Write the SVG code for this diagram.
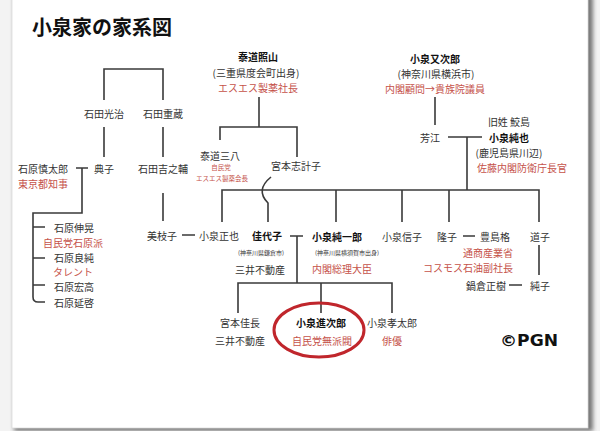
<svg xmlns="http://www.w3.org/2000/svg" width="600" height="431" viewBox="0 0 600 431">
<defs>
<filter id="sh" x="-5%" y="-5%" width="110%" height="110%"><feGaussianBlur stdDeviation="2"/></filter>
<style>
text{font-family:"Noto Sans CJK JP","Noto Sans",sans-serif;dominant-baseline:central;text-anchor:middle;fill:#333}
.n{font-size:10px}
.b{font-size:10px;font-weight:bold;fill:#111}
.r{font-size:10px;fill:#c5524a}
.s{font-size:6px}
.sr{font-size:6.5px;fill:#c5524a}
.l{text-anchor:start}
.e{text-anchor:end}
.c path,.c line{stroke:#3a3a3a;stroke-width:1.6;fill:none}
</style>
</defs>
<rect width="600" height="431" fill="#f3f3f3"/>
<rect x="14" y="-4" width="579" height="435" fill="#777" filter="url(#sh)"/>
<rect x="12" y="-4" width="576" height="432" fill="#fff" stroke="#ddd" stroke-width="0.8"/>
<text x="32" y="26" class="l" style="font-size:20px;font-weight:bold;fill:#111">小泉家の家系図</text>

<g class="c" id="connectors">
<path d="M104 100V69H163V100"/>
<path d="M104 127V157M163 127V157M163 193V221"/>
<path d="M76 168H88M82 168V213H33V297Q33 302 38 302H45M33 227H45M33 258H45M33 285H45"/>
<path d="M259 97V127M220 140V127H297V157"/>
<path d="M435 97V125M448 137H482M467 137V190"/>
<path d="M222 222V190H539V222M336 190V222M402 190V222M449 190V222"/>
<path d="M271 177Q255 190 268 203V222"/>
<path d="M182 235H195M463 236H475M539 245V275M509 285H522"/>
<path d="M290 236H303M297 236V283M238 313V283H392V313M321 283V313"/>
</g>

<g id="ishida-mitsuji"><text x="104" y="113" class="n">石田光治</text></g>
<g id="ishida-shigezo"><text x="163" y="113" class="n">石田重蔵</text></g>
<g id="noriko"><text x="104" y="168" class="n">典子</text></g>
<g id="ishihara-shintaro"><text x="43" y="168" class="n">石原慎太郎</text><text x="43" y="183" class="r">東京都知事</text></g>
<g id="ishida-kichinosuke"><text x="163" y="168" class="n">石田吉之輔</text></g>
<g id="ishihara-nobuteru"><text x="54" y="227" class="n l">石原伸晃</text><text x="73" y="242" class="r">自民党石原派</text></g>
<g id="ishihara-yoshizumi"><text x="54" y="257" class="n l">石原良純</text><text x="73" y="271" class="r">タレント</text></g>
<g id="ishihara-hirotaka"><text x="54" y="286" class="n l">石原宏高</text></g>
<g id="ishihara-nobuhiro"><text x="54" y="302" class="n l">石原延啓</text></g>

<g id="taido-shozan"><text x="258" y="56" class="b">泰道照山</text><text x="256" y="72" class="n">(三重県度会町出身)</text><text x="258" y="87" class="r">エスエス製薬社長</text></g>
<g id="taido-sanpachi"><text x="220" y="155" class="n">泰道三八</text><text x="221" y="167" class="sr">自民党</text><text x="222" y="178" class="sr">エスエス製薬会長</text></g>
<g id="miyamoto-shikeko"><text x="296" y="165" class="n">宮本志計子</text></g>

<g id="koizumi-matajiro"><text x="435" y="58" class="b">小泉又次郎</text><text x="436" y="73" class="n">(神奈川県横浜市)</text><text x="435" y="88" class="r">内閣顧問→貴族院議員</text></g>
<g id="yoshie"><text x="430" y="137" class="n">芳江</text></g>
<g id="koizumi-junya"><text x="509" y="121" class="n">旧姓 鮫島</text><text x="509" y="137" class="b">小泉純也</text><text x="509" y="152" class="n">(鹿児島県川辺)</text><text x="522" y="167" class="r">佐藤内閣防衛庁長官</text></g>

<g id="mieko"><text x="162" y="235" class="n">美枝子</text></g>
<g id="koizumi-masaya"><text x="219" y="235" class="n">小泉正也</text></g>
<g id="kayoko"><text x="267" y="235" class="b">佳代子</text><text x="261" y="252" class="s">(神奈川県鎌倉市)</text><text x="260" y="269" class="n">三井不動産</text></g>
<g id="koizumi-junichiro"><text x="312" y="236" class="b l">小泉純一郎</text><text x="347" y="252" class="s">(神奈川県横須賀市出身)</text><text x="312" y="268" class="r l">内閣総理大臣</text></g>
<g id="koizumi-nobuko"><text x="402" y="236" class="n">小泉信子</text></g>
<g id="takako"><text x="447" y="236" class="n">隆子</text></g>
<g id="toyoshima-itaru"><text x="495" y="236" class="n">豊島格</text><text x="513" y="252" class="r e">通商産業省</text><text x="513" y="267" class="r e">コスモス石油副社長</text></g>
<g id="michiko"><text x="540" y="236" class="n">道子</text></g>
<g id="nabekura-masaki"><text x="486" y="285" class="n">鍋倉正樹</text></g>
<g id="junko"><text x="540" y="285" class="n">純子</text></g>

<g id="miyamoto-yoshinaga"><text x="240" y="322" class="n">宮本佳長</text><text x="240" y="340" class="n">三井不動産</text></g>
<g id="koizumi-shinjiro"><ellipse cx="319" cy="330" rx="45" ry="27" fill="none" stroke="#c0262c" stroke-width="3"/><text x="321" y="322" class="b">小泉進次郎</text><text x="322" y="340" class="r">自民党無派閥</text></g>
<g id="koizumi-kotaro"><text x="392" y="322" class="n">小泉孝太郎</text><text x="392" y="340" class="r">俳優</text></g>

<text x="529" y="340" style="font-family:'DejaVu Sans',sans-serif;font-size:16px;font-weight:bold;fill:#111" textLength="58" lengthAdjust="spacingAndGlyphs">©PGN</text>
</svg>
